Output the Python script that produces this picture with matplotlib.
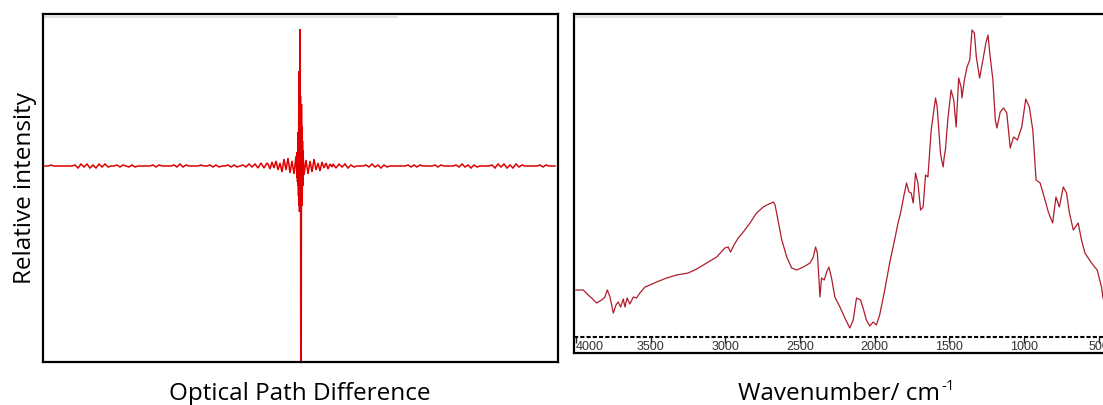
import numpy as np
import matplotlib
matplotlib.use("Agg")
import matplotlib.pyplot as plt

# ---------------- Interferogram (left panel) ----------------
# baseline noise on either side of the centre burst, sampled every 3 OPD units
ifg_left_opd = np.arange(-255, -32, 3)
ifg_left_val = [0, 0, 1, 0, 0, 0, 0, 0, 0, 0, 1, -2, 2, -1, 2, -2, 1, -2, 2, -1,
                2, -1, 0, 0, 1, -1, 1, 0, -1, 1, -1, 0, 0, 0, 0, 0, 1, -1, 1, 0,
                0, 0, 0, 1, -1, 2, -1, 1, 0, 0, 0, 0, 1, 0, 0, 1, -1, 1, -1, 0,
                0, 1, -1, 1, -1, 0, 1, -1, 2, -1, 2, -2, 3, -2, 3]

# centre burst (zero path difference region)
ifg_burst_opd = [-32, -30, -28, -26, -24, -22, -20, -18, -16, -14, -12, -10, -8,
                 -6, -4, -3, -2.75, -2.5, -2.25, -2, -1.75, -1.5, -1.25, -1,
                 -0.75, -0.5, -0.25, 0, 0.25, 0.5, 0.75, 1, 1.25, 1.5, 1.75, 2,
                 2.25, 2.5, 2.75, 3, 4, 6, 8, 10, 12, 14, 16, 18, 20, 22, 24, 26,
                 28, 30, 32]
ifg_burst_val = [2, -3, 4, -2, 5, -4, 3, -6, 7, -4, 8, -7, 5, -8, 10, -12, 14,
                 -16, 20, -20, 34, -30, 60, -40, 95, -46, 80, 137, -44, 70, -195,
                 45, -165, 62, -40, 40, -30, 25, -20, 16, -9, 6, -8, 5, -6, 7,
                 -4, 3, -5, 4, -2, 3, -3, 2, -1]

ifg_right_opd = np.arange(33, 256, 3)
ifg_right_val = [2, -2, 2, -1, 2, -2, 1, -1, 0, 0, 0, 1, -1, 2, -1, 1, -2, 1, -1, 0,
                 0, 0, 0, 0, 0, 1, -1, 1, -1, 1, 0, 0, 0, 0, 1, -1, 1, 0, 0, 0,
                 0, 1, -1, 2, -1, 1, -2, 1, -1, 0, 0, 0, 0, 1, -2, 2, -1, 2, -2, 1,
                 -2, 2, -1, 1, 0, 0, 0, 0, 0, 1, -1, 1, 0, 0, 0]

# ---------------- IR spectrum (right panel) ----------------
wavenumber = [4000, 3951, 3918, 3895, 3862, 3828, 3806, 3790, 3772, 3750, 3732,
              3717, 3701, 3683, 3672, 3657, 3639, 3616, 3594, 3572, 3538, 3505,
              3460, 3393, 3326, 3248, 3192, 3125, 3058, 3003, 2981, 2965, 2942,
              2914, 2880, 2835, 2791, 2746, 2722, 2678, 2667, 2644, 2622, 2589,
              2556, 2522, 2478, 2433, 2411, 2396, 2384, 2373, 2367, 2356, 2338,
              2322, 2307, 2289, 2267, 2233, 2200, 2167, 2144, 2122, 2095, 2078,
              2056, 2033, 2011, 1989, 1967, 1933, 1900, 1867, 1844, 1827, 1804,
              1787, 1771, 1756, 1742, 1727, 1711, 1693, 1676, 1660, 1644, 1622,
              1593, 1582, 1560, 1551, 1542, 1535, 1527, 1511, 1489, 1471, 1455,
              1438, 1422, 1416, 1400, 1382, 1364, 1349, 1333, 1320, 1298, 1276,
              1256, 1242, 1227, 1209, 1193, 1182, 1160, 1138, 1116, 1093, 1071,
              1045, 1016, 989, 965, 942, 920, 893, 860, 838, 809, 787, 764, 738,
              716, 698, 671, 638, 616, 593, 549, 511, 482, 473, 455]
intensity = [47, 47, 42, 39, 34, 37, 40, 47, 40, 24, 32, 35, 30, 38, 30, 39, 33,
             40, 39, 44, 50, 52, 55, 59, 62, 64, 68, 74, 80, 89, 90, 85, 92, 99,
             105, 114, 124, 130, 132, 135, 132, 114, 97, 80, 69, 67, 70, 74, 80,
             90, 84, 57, 40, 59, 57, 65, 70, 59, 40, 30, 19, 9, 17, 39, 37, 29,
             17, 11, 15, 12, 22, 47, 74, 97, 114, 124, 142, 154, 145, 144, 134,
             164, 154, 127, 130, 162, 160, 207, 239, 230, 184, 176, 170, 180,
             187, 217, 247, 237, 210, 259, 250, 239, 257, 270, 277, 307, 304,
             280, 259, 277, 294, 302, 280, 257, 217, 209, 225, 229, 224, 189,
             200, 197, 210, 238, 230, 207, 157, 154, 137, 125, 114, 140, 130,
             150, 144, 125, 107, 114, 97, 84, 74, 67, 50, 40, 30]

tick_values = [4000, 3500, 3000, 2500, 2000, 1500, 1000, 500]
tick_labels = ["4000", "3500", "3000", "2500", "2000", "1500", "1000", "500"]

# ---------------- Figure ----------------
plt.rcParams["font.family"] = ["Open Sans", "DejaVu Sans"]
W, H = 1103, 405
fig = plt.figure(figsize=(W / 100, H / 100), dpi=100)
fig.patch.set_facecolor("white")
LABEL_SIZE = 17.5

# left panel: interferogram
ax1 = fig.add_axes([43 / W, 1 - 362 / H, 515 / W, 348 / H])
opd = np.concatenate([ifg_left_opd, ifg_burst_opd, ifg_right_opd])
sig = np.concatenate([ifg_left_val, ifg_burst_val, ifg_right_val])
ax1.plot(opd, sig, color="#e00000", lw=1.1, solid_joinstyle="miter")
ax1.set_xlim(-257, 258)
ax1.set_ylim(-196, 152)
ax1.set_xticks([])
ax1.set_yticks([])
for s in ax1.spines.values():
    s.set_linewidth(1.6)
    s.set_color("black")
ax1.plot([0.0, 0.687], [0.992, 0.992], transform=ax1.transAxes,
         color="#e2e2e2", lw=1.4)
ax1.set_ylabel("Relative intensity", fontsize=LABEL_SIZE, labelpad=4)
fig.text(300 / W, 1 - 394 / H, "Optical Path Difference", ha="center",
         va="center", fontsize=LABEL_SIZE)

# right panel: IR spectrum (right edge runs off the figure)
ax2 = fig.add_axes([574 / W, 1 - 353 / H, 554.7 / W, 339 / H])
ax2.plot(wavenumber, intensity, color="#b01c2c", lw=0.9)
ax2.set_xlim(4013, 300)
ax2.set_ylim(-16, 323)
ax2.set_xticks([])
ax2.set_yticks([])
for s in ax2.spines.values():
    s.set_linewidth(1.6)
    s.set_color("black")
ax2.axhline(0, color="black", lw=1.5, ls=(0, (2.0, 1.0)))
ax2.vlines(tick_values, -6, 0, color="#222222", lw=1.0)
for v, lab in zip(tick_values, tick_labels):
    ha = "left" if v == tick_values[0] else "center"
    ax2.text(v, -10.5, lab, ha=ha, va="center", fontsize=9,
             family="Liberation Sans", color="#333333")
ax2.plot([0.0, 0.772], [0.992, 0.992], transform=ax2.transAxes,
         color="#e2e2e2", lw=1.4)

# axis title with a small raised "-1"
renderer = fig.canvas.get_renderer()
main = fig.text(0, 1 - 394 / H, "Wavenumber/ cm", ha="left", va="center",
                fontsize=LABEL_SIZE)
sup = fig.text(0, 1 - 386 / H, "-1", ha="left", va="center",
               fontsize=LABEL_SIZE * 0.62)
w_main = main.get_window_extent(renderer).width
w_sup = sup.get_window_extent(renderer).width
x0 = 846 - (w_main + w_sup) / 2
main.set_x(x0 / W)
sup.set_x((x0 + w_main + 1) / W)

fig.savefig("out.png", dpi=100, facecolor="white")
